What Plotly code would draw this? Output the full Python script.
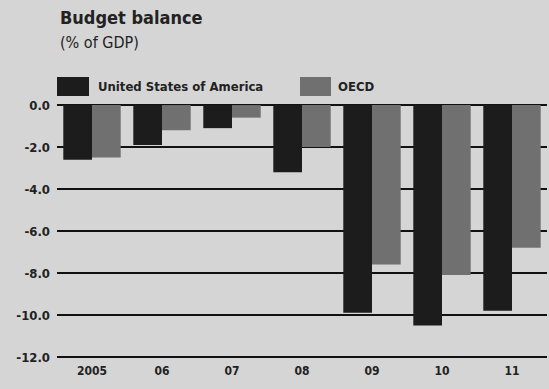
import plotly.graph_objects as go

years = ["2005", "06", "07", "08", "09", "10", "11"]
series_names = ["United States of America", "OECD"]
usa = [-2.6, -1.9, -1.1, -3.2, -9.9, -10.5, -9.8]
oecd = [-2.5, -1.2, -0.6, -2.0, -7.6, -8.1, -6.8]
y_tickvals = [0, -2, -4, -6, -8, -10, -12]
y_ticktext = ["0.0", "-2.0", "-4.0", "-6.0", "-8.0", "-10.0", "-12.0"]

col_us = "#1c1c1c"
col_oecd = "#707070"
bg = "#d5d5d5"
txt = "#222222"
FONT = "DejaVu Sans Condensed, Liberation Sans Narrow, Arial Narrow, sans-serif"

fig = go.Figure()
fig.add_trace(go.Bar(x=years, y=usa, name=series_names[0], marker=dict(color=col_us, line=dict(width=0))))
fig.add_trace(go.Bar(x=years, y=oecd, name=series_names[1], marker=dict(color=col_oecd, line=dict(width=0))))

W, H = 549, 389
fig.update_layout(
    width=W, height=H,
    margin=dict(l=57, r=2, t=104, b=31),
    paper_bgcolor=bg, plot_bgcolor=bg,
    barmode="group", bargap=0.18, bargroupgap=0,
    showlegend=False,
    font=dict(family=FONT, color=txt, size=13),
    xaxis=dict(type="category", showgrid=False, ticks="", showline=False, zeroline=False,
               tickfont=dict(family=FONT, size=12, color=txt, weight="bold"), ticklabelstandoff=4,
               range=[-0.5, 6.5]),
    yaxis=dict(range=[-12.05, 0.05], tickvals=y_tickvals, ticktext=y_ticktext,
               showgrid=True, gridcolor="#111111", gridwidth=2, zeroline=False,
               ticks="", showline=False, ticklabelstandoff=6,
               tickfont=dict(family=FONT, size=13, color=txt, weight="bold")),
)

def px_x(x):
    return (x - 57) / 490

def px_y(y):
    return (389 - 31 - y) / 254

# Title and subtitle
fig.add_annotation(text="<b>Budget balance</b>", xref="paper", yref="paper",
                   x=px_x(58), y=px_y(18), xanchor="left", yanchor="middle",
                   showarrow=False, font=dict(family=FONT, size=18, color=txt))
fig.add_annotation(text="(% of GDP)", xref="paper", yref="paper",
                   x=px_x(58), y=px_y(43), xanchor="left", yanchor="middle",
                   showarrow=False, font=dict(family=FONT, size=16, color=txt))

# Legend as swatches + labels
legend_items = [(57, 89, 96, col_us, series_names[0]), (300, 331, 336, col_oecd, series_names[1])]
for x0, x1, tx, col, name in legend_items:
    fig.add_shape(type="rect", xref="paper", yref="paper",
                  x0=px_x(x0), x1=px_x(x1), y0=px_y(96), y1=px_y(77),
                  fillcolor=col, line=dict(width=0))
    fig.add_annotation(text="<b>" + name + "</b>", xref="paper", yref="paper",
                       x=px_x(tx), y=px_y(87), xanchor="left", yanchor="middle",
                       showarrow=False, font=dict(family=FONT, size=13, color=txt))

fig.write_html("out.html", config={"displayModeBar": False},
               post_script="document.body.style.margin='0';document.body.style.overflow='hidden';")
